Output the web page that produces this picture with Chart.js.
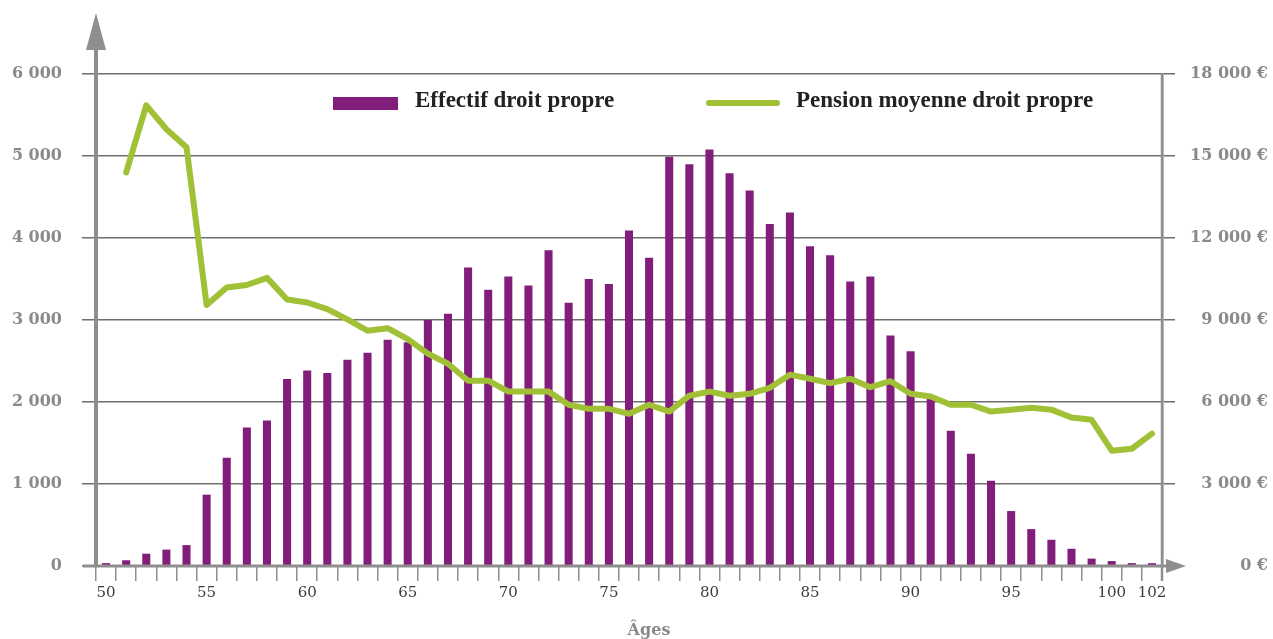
<!DOCTYPE html>
<html>
<head>
<meta charset="utf-8">
<script src="https://cdn.jsdelivr.net/npm/chart.js@4"></script>
<style>
    html, body { margin: 0; padding: 0; background: #fff; }
    #wrap { width: 1273px; height: 639px; position: relative; }
</style>
</head>
<body>
<div id="wrap"><canvas id="chartCanvas"></canvas></div>
<script>
const ages = [50, 51, 52, 53, 54, 55, 56, 57, 58, 59, 60, 61, 62, 63, 64, 65, 66, 67, 68, 69,
    70, 71, 72, 73, 74, 75, 76, 77, 78, 79, 80, 81, 82, 83, 84, 85, 86, 87, 88, 89,
    90, 91, 92, 93, 94, 95, 96, 97, 98, 99, 100, 101, 102];

// Effectif droit propre (left axis)
const effectif = [35, 70, 150, 200, 255, 870, 1320, 1690, 1775, 2280, 2385, 2355, 2515, 2600, 2760, 2730, 3000, 3075, 3640, 3370,
    3530, 3420, 3850, 3210, 3500, 3440, 4090, 3760, 4990, 4900, 5080, 4790, 4580, 4170, 4310, 3900, 3790, 3470, 3530, 2810,
    2620, 2040, 1650, 1370, 1040, 670, 450, 320, 210, 90, 60, 35, 35];

// Pension moyenne droit propre (right axis, euros)
const pension = [null, 14400, 16850, 15980, 15320, 9550, 10190, 10280, 10540, 9750, 9640, 9400, 9020, 8610, 8700, 8300, 7770, 7400, 6780, 6780,
    6380, 6380, 6380, 5900, 5750, 5750, 5570, 5900, 5650, 6230, 6380, 6230, 6300, 6520, 7000, 6850, 6690, 6850, 6540, 6760,
    6300, 6200, 5900, 5900, 5650, 5720, 5790, 5720, 5430, 5350, 4220, 4290, 4840];

const shownAges = [50, 55, 60, 65, 70, 75, 80, 85, 90, 95, 100, 102];

const purple = '#821d7b';
const green = '#a0c036';
const axisGray = '#8e8e8e';
const gridGray = '#6e6e6e';
const labelGray = '#8a8a8a';

function spaced(v) {
    return String(v).replace(/\B(?=(\d{3})+(?!\d))/g, ' ');
}

// arrows, axis extensions, legend and axis title
const decorPlugin = {
    id: 'decor',
    afterDraw(chart) {
        const ctx = chart.ctx;
        const a = chart.chartArea;
        ctx.save();

        // left axis shaft + arrow
        ctx.strokeStyle = axisGray;
        ctx.lineWidth = 4;
        ctx.beginPath();
        ctx.moveTo(a.left, a.bottom + 1);
        ctx.lineTo(a.left, 48);
        ctx.stroke();
        ctx.fillStyle = axisGray;
        ctx.beginPath();
        ctx.moveTo(a.left, 13);
        ctx.lineTo(a.left - 10, 50);
        ctx.lineTo(a.left + 10, 50);
        ctx.closePath();
        ctx.fill();

        // x axis extension + arrow
        ctx.lineWidth = 3;
        ctx.beginPath();
        ctx.moveTo(a.left - 13, a.bottom);
        ctx.lineTo(1170, a.bottom);
        ctx.stroke();
        ctx.beginPath();
        ctx.moveTo(1186, a.bottom);
        ctx.lineTo(1166, a.bottom - 7);
        ctx.lineTo(1166, a.bottom + 7);
        ctx.closePath();
        ctx.fill();

        // right axis below the baseline
        ctx.lineWidth = 2.5;
        ctx.beginPath();
        ctx.moveTo(a.right, a.top);
        ctx.lineTo(a.right, a.bottom + 15);
        ctx.stroke();

        // legend
        ctx.fillStyle = purple;
        ctx.fillRect(333, 97, 65, 13);
        ctx.strokeStyle = green;
        ctx.lineWidth = 6;
        ctx.lineCap = 'round';
        ctx.beginPath();
        ctx.moveTo(709, 103);
        ctx.lineTo(777, 103);
        ctx.stroke();
        ctx.fillStyle = '#222';
        ctx.font = 'bold 23px "Liberation Serif"';
        ctx.textBaseline = 'alphabetic';
        ctx.textAlign = 'left';
        ctx.fillText('Effectif droit propre', 415, 107);
        ctx.fillText('Pension moyenne droit propre', 796, 107);

        // x title
        ctx.fillStyle = labelGray;
        ctx.font = 'bold 16px "DejaVu Serif"';
        ctx.textAlign = 'center';
        ctx.fillText('Âges', 649, 635);

        ctx.restore();
    }
};

const ctx = document.getElementById('chartCanvas').getContext('2d');

new Chart(ctx, {
    type: 'bar',
    data: {
        labels: ages,
        datasets: [
            {
                type: 'line',
                label: 'Pension moyenne droit propre',
                data: pension,
                yAxisID: 'y1',
                borderColor: green,
                borderWidth: 6,
                borderJoinStyle: 'round',
                borderCapStyle: 'round',
                pointRadius: 0,
                tension: 0,
                fill: false,
                order: 0
            },
            {
                label: 'Effectif droit propre',
                data: effectif,
                yAxisID: 'y',
                backgroundColor: purple,
                categoryPercentage: 1,
                barPercentage: 0.4,
                order: 1
            }
        ]
    },
    options: {
        responsive: true,
        maintainAspectRatio: false,
        devicePixelRatio: 1,
        animation: false,
        layout: { padding: { top: 74, right: 5, left: 0, bottom: 0 } },
        plugins: {
            legend: { display: false },
            tooltip: { enabled: false }
        },
        scales: {
            x: {
                grid: {
                    display: true,
                    drawOnChartArea: false,
                    drawTicks: true,
                    tickLength: 15,
                    color: axisGray,
                    lineWidth: 1.5
                },
                border: { display: false },
                ticks: {
                    autoSkip: false,
                    maxRotation: 0,
                    padding: 3,
                    color: '#3c3c3c',
                    font: { family: 'DejaVu Serif', size: 15 },
                    callback: function (value, index) {
                        const age = ages[index];
                        return shownAges.includes(age) ? String(age) : '';
                    }
                },
                afterFit: function (scale) { scale.height = 73; }
            },
            y: {
                position: 'left',
                min: 0,
                max: 6000,
                grid: {
                    color: gridGray,
                    lineWidth: 1.5,
                    tickLength: 14
                },
                border: { display: true, color: axisGray, width: 4 },
                ticks: {
                    stepSize: 1000,
                    padding: 20,
                    color: labelGray,
                    font: { family: 'DejaVu Serif', size: 16, weight: 'bold' },
                    callback: v => spaced(v)
                },
                afterFit: function (scale) { scale.width = 96; }
            },
            y1: {
                position: 'right',
                min: 0,
                max: 18000,
                grid: {
                    drawOnChartArea: false,
                    color: gridGray,
                    lineWidth: 1.5,
                    tickLength: 13
                },
                border: { display: true, color: axisGray, width: 2.5 },
                ticks: {
                    stepSize: 3000,
                    padding: 17,
                    crossAlign: 'far',
                    color: labelGray,
                    font: { family: 'DejaVu Serif', size: 16, weight: 'bold' },
                    callback: v => spaced(v) + ' €'
                },
                afterFit: function (scale) { scale.width = 106; }
            }
        }
    },
    plugins: [decorPlugin]
});
</script>
</body>
</html>
